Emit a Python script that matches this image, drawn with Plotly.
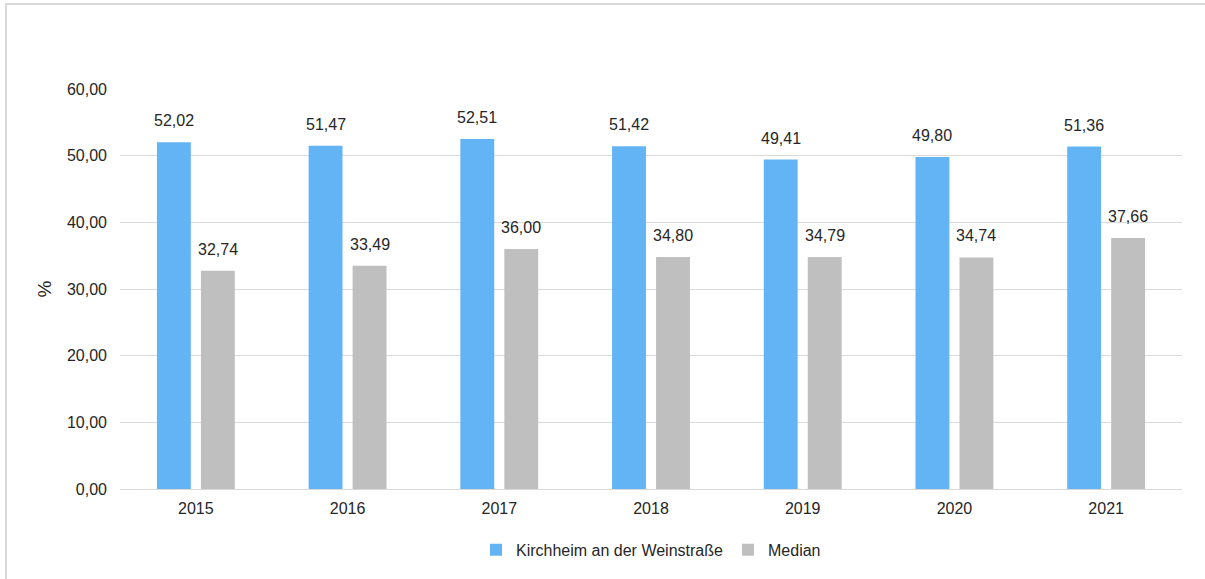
import plotly.graph_objects as go

years = ["2015", "2016", "2017", "2018", "2019", "2020", "2021"]
kirchheim = [52.02, 51.47, 52.51, 51.42, 49.41, 49.80, 51.36]
median = [32.74, 33.49, 36.00, 34.80, 34.79, 34.74, 37.66]
y_ticks = [0, 10, 20, 30, 40, 50, 60]
y_tick_labels = ["0,00", "10,00", "20,00", "30,00", "40,00", "50,00", "60,00"]

blue = "#63b4f5"
grey = "#bfbfbf"
font = "Liberation Sans, Arial, sans-serif"
txt = "#262626"


def de(v):
    return f"{v:.2f}".replace(".", ",")


fig = go.Figure()
fig.add_trace(go.Bar(x=years, y=kirchheim, name="Kirchheim an der Weinstraße",
                     marker=dict(color=blue, line=dict(width=0))))
fig.add_trace(go.Bar(x=years, y=median, name="Median",
                     marker=dict(color=grey, line=dict(width=0))))

# value labels above the bars (x given as category index, since the
# year strings would otherwise be read as numeric positions)
annotations = []
for vals, shift in ((kirchheim, -22), (median, 22)):
    for i, v in enumerate(vals):
        annotations.append(dict(
            x=i, y=v, xref="x", yref="y", text=de(v),
            showarrow=False, xshift=shift, yshift=11, yanchor="bottom",
            font=dict(size=16, color=txt, family=font),
        ))

fig.update_layout(
    width=1205, height=579,
    margin=dict(l=120, r=23, t=89, b=90),
    paper_bgcolor="white", plot_bgcolor="white",
    barmode="group", bargap=0.42, bargroupgap=0.23,
    font=dict(family=font, size=16, color=txt),
    annotations=annotations,
    showlegend=True,
    legend=dict(orientation="h", x=0.5, xanchor="center", y=-0.152, yanchor="middle",
                font=dict(size=16, color=txt), itemwidth=30),
    xaxis=dict(type="category", range=[-0.5, len(years) - 0.5],
               showgrid=False, showline=False, ticks="", ticklabelstandoff=8),
    yaxis=dict(range=[0, 60], tickvals=y_ticks, ticktext=y_tick_labels,
               gridcolor="#d9d9d9", zeroline=True, zerolinecolor="#d9d9d9",
               zerolinewidth=1, showline=False, ticks="", ticklabelstandoff=12,
               title=dict(text="%", standoff=10)),
    shapes=[dict(type="rect", xref="paper", yref="paper",
                 x0=-0.1073, x1=1.2, y0=-0.6, y1=1.2125,
                 line=dict(color="#d9d9d9", width=2), layer="below")],
)

fig.write_html("out.html", config={"displayModeBar": False},
               post_script="document.body.style.margin='0';")
